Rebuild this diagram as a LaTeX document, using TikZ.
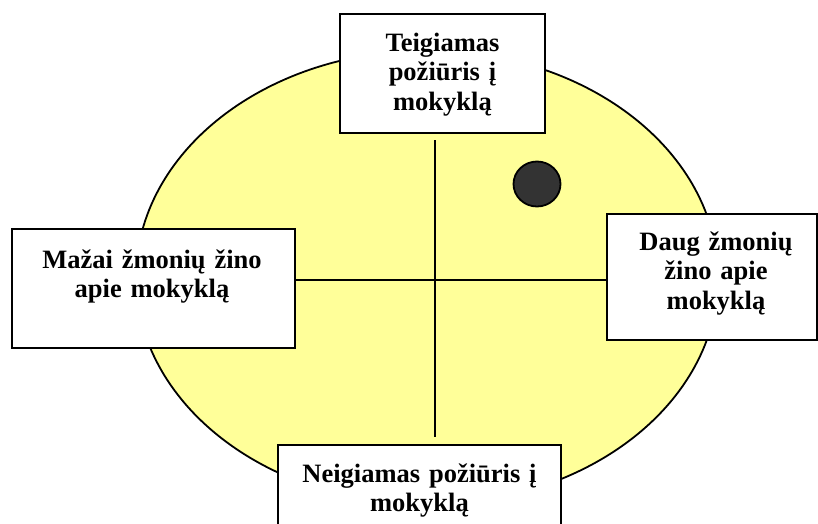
\documentclass[tikz,border=0pt]{standalone}
\usepackage{fontspec}
\setmainfont{Liberation Serif}
\usetikzlibrary{shapes.geometric}
\definecolor{ellfill}{RGB}{255,255,153}
\definecolor{dotfill}{RGB}{51,51,51}
\tikzset{
  boxshape/.style={draw=black, line width=2.2pt, fill=white},
  boxtext/.style={anchor=base, inner sep=0pt, align=center, text width=#1,
    font=\bfseries\fontsize{26.5}{29.5}\selectfont},
  axisline/.style={draw=black, line width=1.6pt},
}
\begin{document}
\begin{tikzpicture}[x=1pt,y=-1pt]
\useasboundingbox (0,0) rectangle (818,523);
% ellipse
\draw[line width=1.8pt, fill=ellfill] (427,277.5) ellipse [x radius=291, y radius=227];
% axes
\coordinate (vt) at (435,140);
\coordinate (vb) at (435,437);
\draw[axisline] (vt) -- (vb);
% dot
\node[ellipse, draw=black, line width=1.8pt, fill=dotfill, minimum width=47pt, minimum height=45pt, inner sep=0pt] (dot) at (537,184) {};
% boxes
\path[boxshape] (340,14) rectangle (545,133);
\path[boxshape] (12,229) rectangle (295,348);
\coordinate (lb) at (295,280);
\path[boxshape] (607,214) rectangle (817,340);
\coordinate (rb) at (607,280);
\path[boxshape] (278,445) rectangle (561,530);
\draw[axisline] (lb) -- (rb);
% texts
\node[boxtext=200pt] (ttop) at (442.5,51) {Teigiamas\\požiūris į\\mokyklą};
\node[boxtext=280pt] (tleft) at (152,268) {Mažai žmonių žino\\apie mokyklą};
\node[boxtext=200pt] (tright) at (716,250) {Daug žmonių\\žino apie\\mokyklą};
\node[boxtext=280pt] (tbottom) at (419.5,482) {Neigiamas požiūris į\\mokyklą};
\end{tikzpicture}
\end{document}
